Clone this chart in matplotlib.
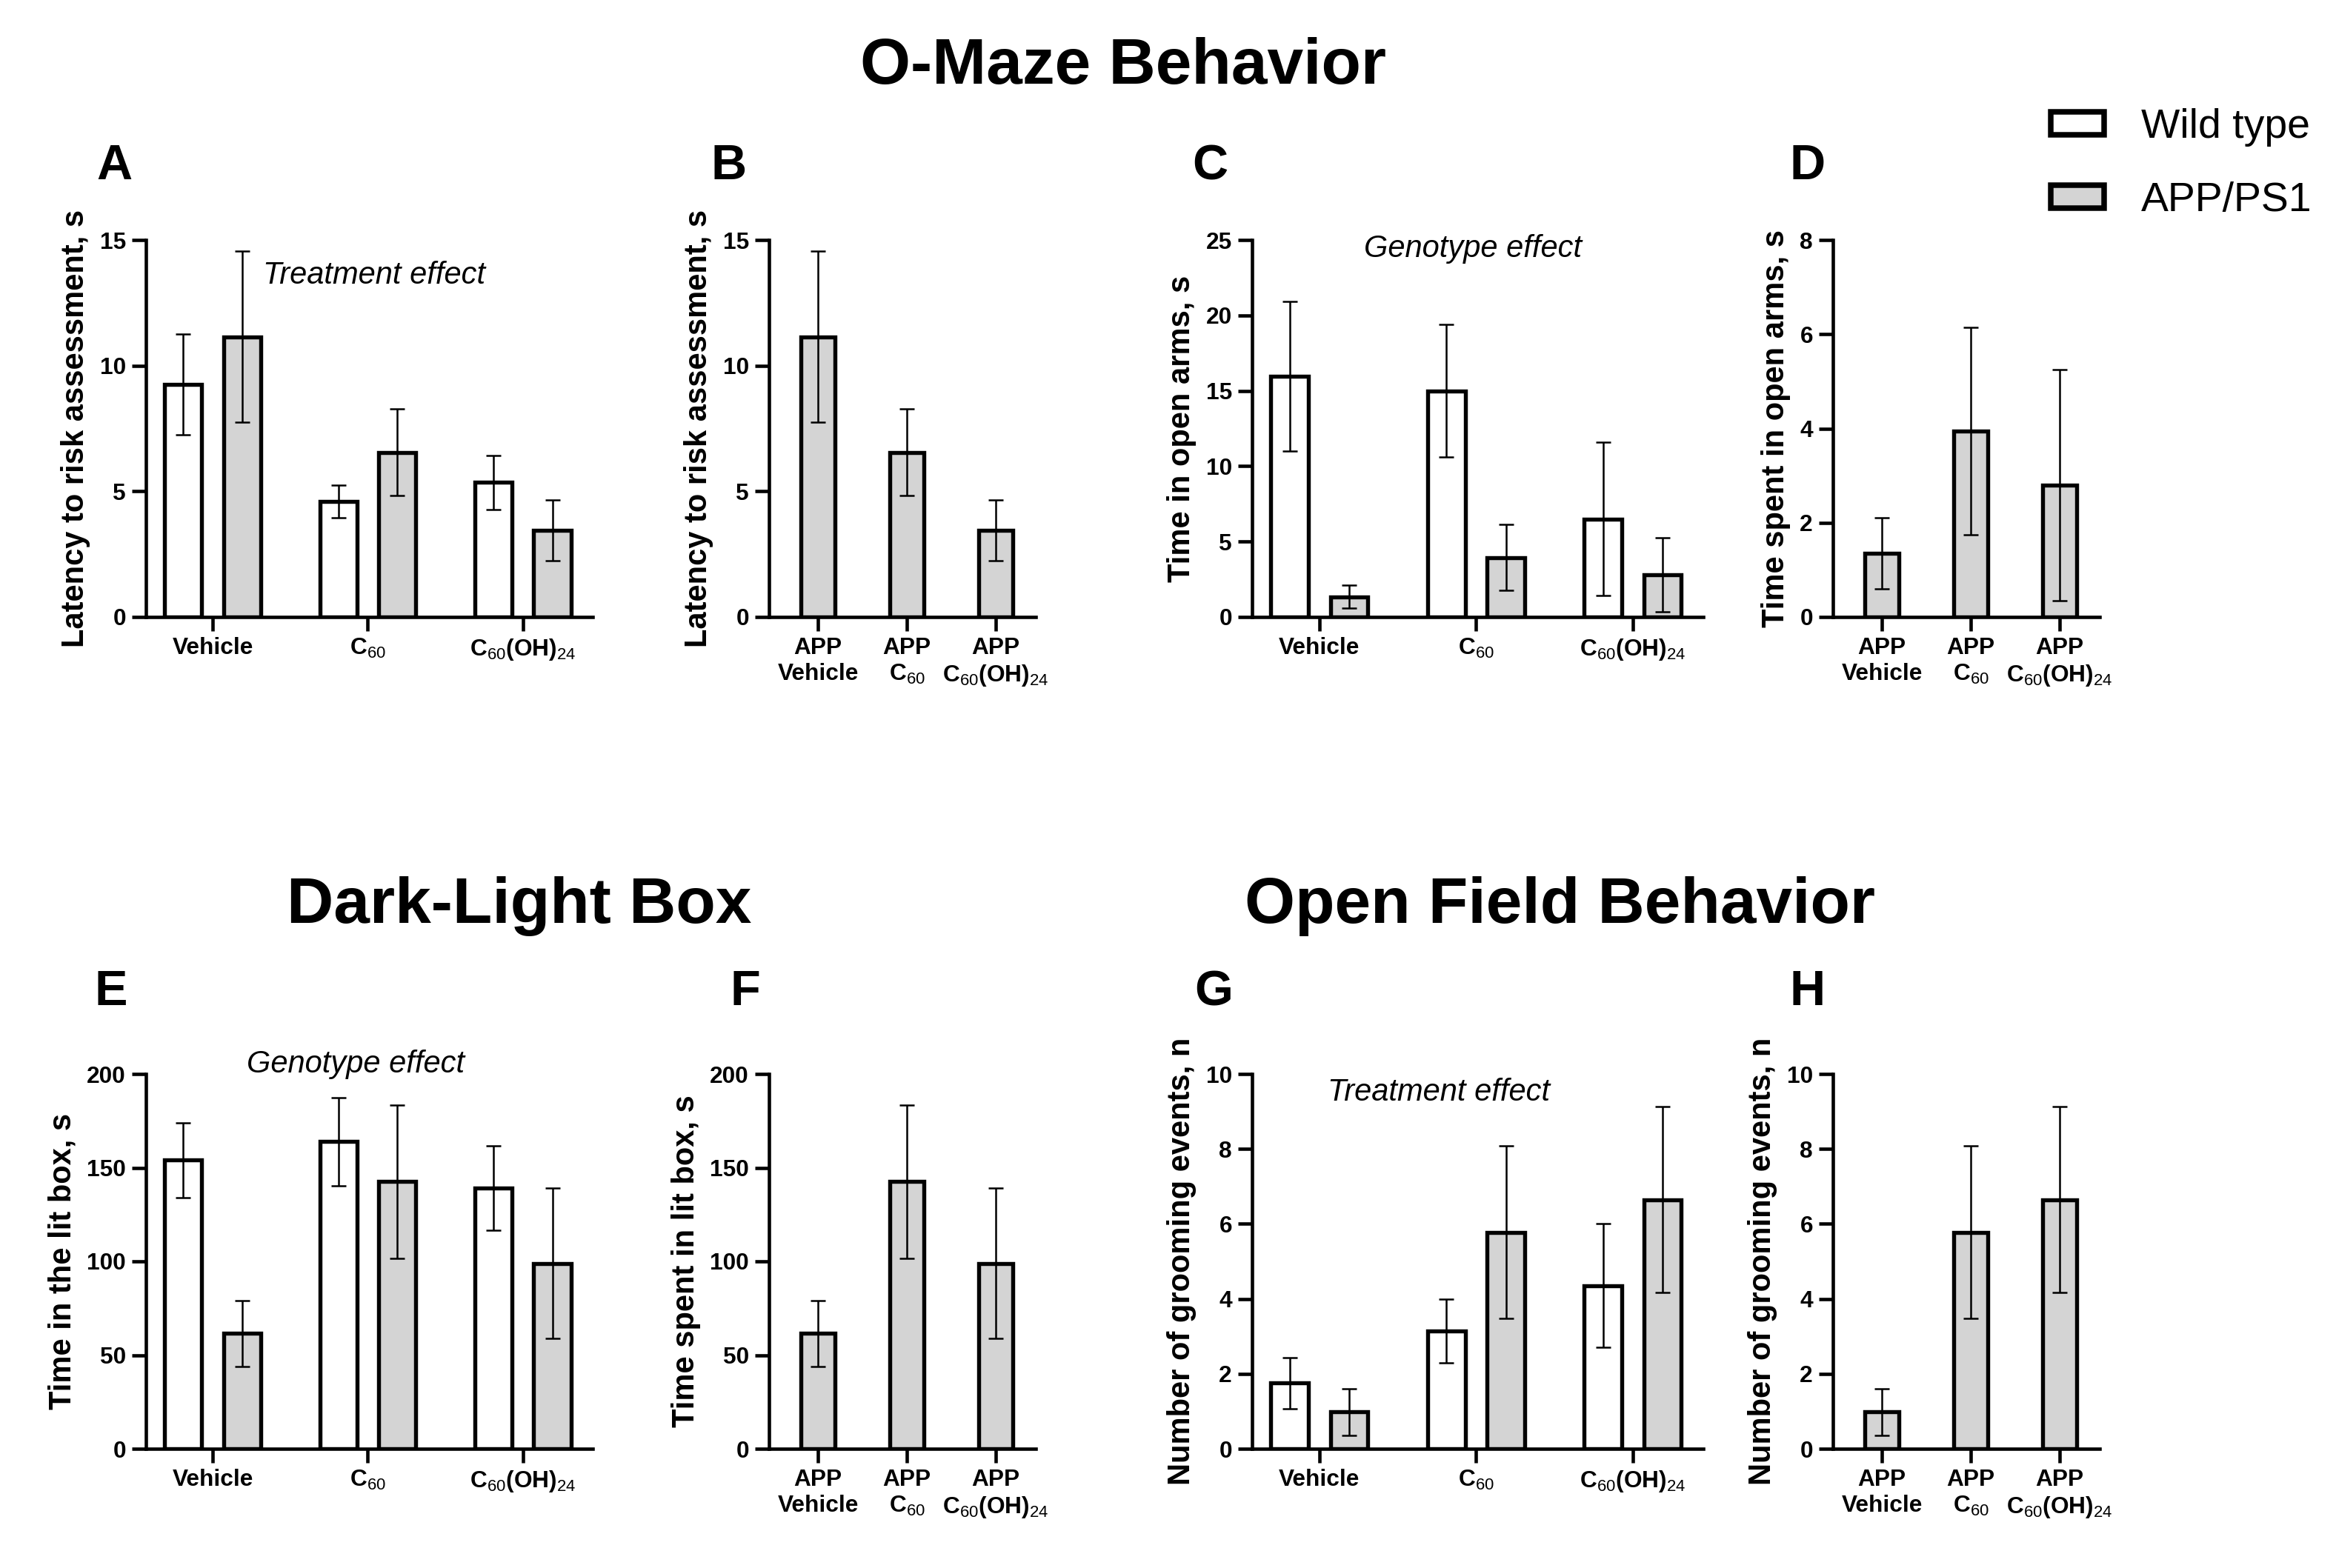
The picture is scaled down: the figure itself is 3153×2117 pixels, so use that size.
import numpy as np
import matplotlib
matplotlib.use('Agg')
import matplotlib.pyplot as plt
from matplotlib.patches import Patch

plt.rcParams['font.family'] = ['Liberation Sans', 'DejaVu Sans']
plt.rcParams['font.weight'] = 'bold'
plt.rcParams['axes.labelweight'] = 'bold'
plt.rcParams['mathtext.fontset'] = 'custom'
plt.rcParams['mathtext.rm'] = 'Liberation Sans:weight=normal'
plt.rcParams['mathtext.it'] = 'Liberation Sans:italic:weight=normal'
plt.rcParams['mathtext.bf'] = 'Liberation Sans:bold'

# Kategorien
treatments = ['Vehicle', 'C$_{60}$', 'C$_{60}$(OH)$_{24}$']
app_labels = ['APP\nVehicle', 'APP\nC$_{60}$', 'APP\nC$_{60}$(OH)$_{24}$']
groups = ['Wild type', 'APP/PS1']

# O-Maze: Latenz bis zur Risikobewertung (s)
latency_wt = [9.25, 4.6, 5.35]
latency_wt_err = [2.0, 0.65, 1.07]
latency_app = [11.15, 6.55, 3.45]
latency_app_err = [3.4, 1.72, 1.2]

# O-Maze: Zeit in offenen Armen (s)
open_wt = [15.95, 15.0, 6.5]
open_wt_err = [4.95, 4.4, 5.1]
open_app = [1.35, 3.95, 2.8]
open_app_err = [0.75, 2.2, 2.45]

# Dark-Light Box: Zeit in der hellen Box (s)
lit_wt = [154, 164, 139]
lit_wt_err = [20, 23.5, 22.5]
lit_app = [61.5, 142.5, 99]
lit_app_err = [17.5, 41, 40]

# Open Field: Anzahl Grooming-Ereignisse
groom_wt = [1.75, 3.15, 4.35]
groom_wt_err = [0.68, 0.85, 1.65]
groom_app = [0.98, 5.78, 6.65]
groom_app_err = [0.63, 2.3, 2.48]

grey = '#d4d4d4'
W, H = 3153, 2117


def style_axis(ax, ylabel, ymax, ystep):
    ax.spines['top'].set_visible(False)
    ax.spines['right'].set_visible(False)
    ax.spines['left'].set_linewidth(1.1)
    ax.spines['bottom'].set_linewidth(1.1)
    ax.tick_params(direction='out', length=4.5, width=1.1, labelsize=7.6, pad=2)
    ax.set_ylim(0, ymax)
    ax.set_yticks(np.arange(0, ymax + ystep / 2, ystep))
    ax.set_ylabel(ylabel, fontsize=10, labelpad=3)


def grouped(pos, wt, wt_err, app, app_err, ylabel, ymax, ystep, note=None, note_xy=None):
    ax = fig.add_axes(pos)
    x = np.arange(len(treatments))
    ax.bar(x - 0.19, wt, 0.24, color='white', edgecolor='black', linewidth=1.3, zorder=2)
    ax.bar(x + 0.19, app, 0.24, color=grey, edgecolor='black', linewidth=1.3, zorder=2)
    ax.errorbar(x - 0.19, wt, yerr=wt_err, fmt='none', ecolor='black',
                elinewidth=0.6, capsize=2.5, capthick=0.6, zorder=3)
    ax.errorbar(x + 0.19, app, yerr=app_err, fmt='none', ecolor='black',
                elinewidth=0.6, capsize=2.5, capthick=0.6, zorder=3)
    ax.set_xlim(-0.43, 2.45)
    ax.set_xticks(x)
    ax.set_xticklabels(treatments)
    style_axis(ax, ylabel, ymax, ystep)
    if note:
        ax.text(note_xy[0], note_xy[1], note, fontsize=10, fontweight='normal',
                style='italic', ha='center', va='center', clip_on=False)
    return ax


def single(pos, app, app_err, ylabel, ymax, ystep):
    ax = fig.add_axes(pos)
    x = np.arange(len(app_labels))
    ax.bar(x, app, 0.38, color=grey, edgecolor='black', linewidth=1.3, zorder=2)
    ax.errorbar(x, app, yerr=app_err, fmt='none', ecolor='black',
                elinewidth=0.6, capsize=2.5, capthick=0.6, zorder=3)
    ax.set_xlim(-0.55, 2.45)
    ax.set_xticks(x)
    ax.set_xticklabels(app_labels)
    style_axis(ax, ylabel, ymax, ystep)
    return ax


fig = plt.figure(figsize=(W / 300, H / 300), dpi=300)

row1 = [1 - 833 / H, 509 / H]
row2 = [1 - 1956 / H, 506 / H]

# obere Reihe - O-Maze
grouped([197 / W, row1[0], 603 / W, row1[1]], latency_wt, latency_wt_err, latency_app,
        latency_app_err, 'Latency to risk assessment, s', 15, 5, 'Treatment effect', (1.04, 13.6))
single([1038 / W, row1[0], 360 / W, row1[1]], latency_app, latency_app_err,
       'Latency to risk assessment, s', 15, 5)
grouped([1690 / W, row1[0], 609 / W, row1[1]], open_wt, open_wt_err, open_app, open_app_err,
        'Time in open arms, s', 25, 5, 'Genotype effect', (0.98, 24.4))
single([2474 / W, row1[0], 360 / W, row1[1]], open_app, open_app_err,
       'Time spent in open arms, s', 8, 2)

# untere Reihe - Dark-Light Box und Open Field
grouped([197 / W, row2[0], 603 / W, row2[1]], lit_wt, lit_wt_err, lit_app, lit_app_err,
        'Time in the lit box, s', 200, 50, 'Genotype effect', (0.92, 205))
single([1038 / W, row2[0], 360 / W, row2[1]], lit_app, lit_app_err,
       'Time spent in lit box, s', 200, 50)
grouped([1690 / W, row2[0], 609 / W, row2[1]], groom_wt, groom_wt_err, groom_app, groom_app_err,
        'Number of grooming events, n', 10, 2, 'Treatment effect', (0.76, 9.5))
single([2474 / W, row2[0], 360 / W, row2[1]], groom_app, groom_app_err,
       'Number of grooming events, n', 10, 2)

# Titel
fig.text(1516 / W, 1 - 91 / H, 'O-Maze Behavior', fontsize=21, ha='center', va='center')
fig.text(701 / W, 1 - 1223 / H, 'Dark-Light Box', fontsize=21, ha='center', va='center')
fig.text(2106 / W, 1 - 1223 / H, 'Open Field Behavior', fontsize=21, ha='center', va='center')

# Panel-Buchstaben
letters = ['A', 'B', 'C', 'D', 'E', 'F', 'G', 'H']
letter_xy = [(154, 225), (984, 225), (1633, 225), (2440, 225),
             (150, 1340), (1006, 1340), (1638, 1340), (2440, 1340)]
for lab, (lx, ly) in zip(letters, letter_xy):
    fig.text(lx / W, 1 - ly / H, lab, fontsize=16, ha='center', va='center')

# Legende
handles = [Patch(facecolor='white', edgecolor='black', linewidth=1.8),
           Patch(facecolor=grey, edgecolor='black', linewidth=1.8)]
fig.legend(handles, groups, loc='upper left', bbox_to_anchor=(2768 / W, 1 - 146 / H),
           frameon=False, prop={'size': 13.3, 'weight': 'normal'}, borderpad=0,
           borderaxespad=0, handlelength=1.3, handleheight=0.47, handletextpad=0.9,
           labelspacing=0.85)

plt.savefig('out.png', dpi=300)
